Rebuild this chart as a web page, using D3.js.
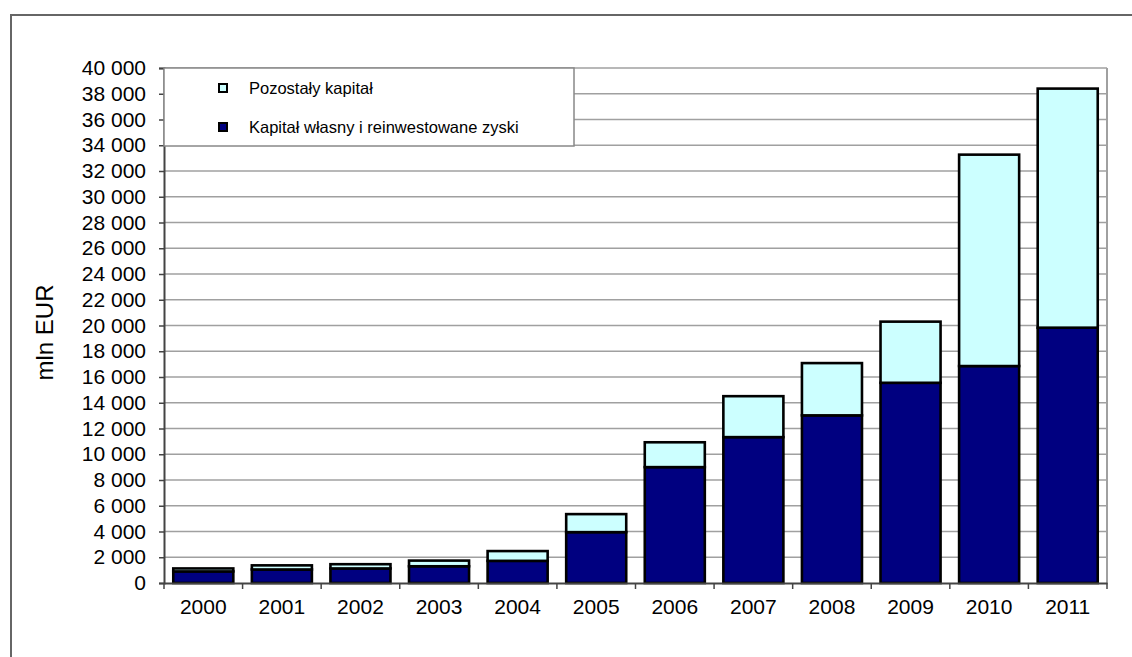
<!DOCTYPE html>
<html>
<head>
<meta charset="utf-8">
<script src="https://cdn.jsdelivr.net/npm/d3@7"></script>
<style>
  html, body { margin: 0; padding: 0; background: #fff; }
  svg { display: block; font-family: "Liberation Sans", Arial, sans-serif; }
</style>
</head>
<body>
<svg id="chart" width="1132" height="657"></svg>
<script>
const years = ["2000","2001","2002","2003","2004","2005","2006","2007","2008","2009","2010","2011"];
const ownCapital = [900, 1050, 1130, 1300, 1720, 3950, 9000, 11330, 13020, 15550, 16850, 19830];
const otherCapital = [230, 320, 330, 440, 760, 1400, 1930, 3180, 4060, 4750, 16420, 18570];
const yTicks = [0,2000,4000,6000,8000,10000,12000,14000,16000,18000,20000,22000,24000,26000,28000,30000,32000,34000,36000,38000,40000];
const seriesNames = ["Pozostały kapitał", "Kapitał własny i reinwestowane zyski"];
const yTitle = "mln EUR";

const svg = d3.select("#chart");
const plot = { left: 164, top: 68, right: 1107, bottom: 583 };

// outer frame
svg.append("rect").attr("x", 11).attr("y", 15).attr("width", 1140).attr("height", 700)
  .attr("fill", "none").attr("stroke", "#666").attr("stroke-width", 2);

const x = d3.scaleBand().domain(years).range([plot.left, plot.right])
  .paddingInner(0.236).paddingOuter(0.118);
const y = d3.scaleLinear().domain([0, 40000]).range([plot.bottom, plot.top]);

// gridlines
svg.append("g").selectAll("line").data(yTicks.filter(d => d > 0)).join("line")
  .attr("x1", plot.left).attr("x2", plot.right)
  .attr("y1", d => y(d)).attr("y2", d => y(d))
  .attr("stroke", "#a0a0a0").attr("stroke-width", 1.5);
svg.append("line").attr("x1", plot.right).attr("x2", plot.right)
  .attr("y1", plot.top).attr("y2", plot.bottom).attr("stroke", "#a0a0a0").attr("stroke-width", 2);

// stacked data
const data = years.map((yr, i) => ({ year: yr, own: ownCapital[i], other: otherCapital[i] }));
const stack = d3.stack().keys(["own", "other"])(data);
const colors = { own: "#000080", other: "#CCFFFF" };

svg.append("g").selectAll("g").data(stack).join("g")
  .attr("fill", d => colors[d.key])
  .selectAll("rect").data(d => d).join("rect")
  .attr("x", d => x(d.data.year))
  .attr("width", x.bandwidth())
  .attr("y", d => y(d[1]))
  .attr("height", d => y(d[0]) - y(d[1]))
  .attr("stroke", "#000").attr("stroke-width", 2.6);

// y axis
const yAxis = d3.axisLeft(y).tickValues(yTicks).tickSize(5).tickPadding(13)
  .tickFormat(d => d3.format(",")(d).replace(/,/g, " "));
const gy = svg.append("g").attr("transform", `translate(${plot.left},0)`).call(yAxis);
gy.select(".domain").attr("stroke", "#444").attr("stroke-width", 2);
gy.selectAll(".tick line").attr("stroke", "#444").attr("stroke-width", 1.5);
gy.selectAll("text").attr("font-size", 21).attr("fill", "#000")
  .attr("font-family", "Liberation Sans, Arial, sans-serif");

// x axis
const xAxis = d3.axisBottom(x).tickSize(0).tickPadding(16);
const gx = svg.append("g").attr("transform", `translate(0,${plot.bottom})`).call(xAxis);
gx.select(".domain").attr("stroke", "#444").attr("stroke-width", 2);
gx.selectAll("text").attr("font-size", 21).attr("fill", "#000")
  .attr("font-family", "Liberation Sans, Arial, sans-serif");
const boundaries = years.map(yr => x(yr) - x.step() * x.paddingInner() / 2);
boundaries.push(plot.right);
svg.append("g").selectAll("line").data(boundaries).join("line")
  .attr("x1", d => d).attr("x2", d => d)
  .attr("y1", plot.bottom).attr("y2", plot.bottom + 6)
  .attr("stroke", "#444").attr("stroke-width", 1.5);

// y title
svg.append("text").attr("transform", `translate(53,${(plot.top + plot.bottom) / 2 + 7}) rotate(-90)`)
  .attr("text-anchor", "middle").attr("font-size", 24).attr("fill", "#000").text(yTitle);

// legend
const lg = svg.append("g");
lg.append("rect").attr("x", plot.left).attr("y", plot.top).attr("width", 574 - plot.left).attr("height", 146 - plot.top)
  .attr("fill", "#fff").attr("stroke", "#888").attr("stroke-width", 1.5);
const legendItems = [
  { name: seriesNames[0], color: colors.other, cy: 88 },
  { name: seriesNames[1], color: colors.own, cy: 127 }
];
legendItems.forEach(it => {
  lg.append("rect").attr("x", 219).attr("y", it.cy - 4).attr("width", 8).attr("height", 8)
    .attr("fill", it.color).attr("stroke", "#000").attr("stroke-width", 2);
  lg.append("text").attr("x", 249).attr("y", it.cy).attr("dy", "0.35em")
    .attr("font-size", 16.5).attr("fill", "#000").text(it.name);
});
</script>
</body>
</html>
